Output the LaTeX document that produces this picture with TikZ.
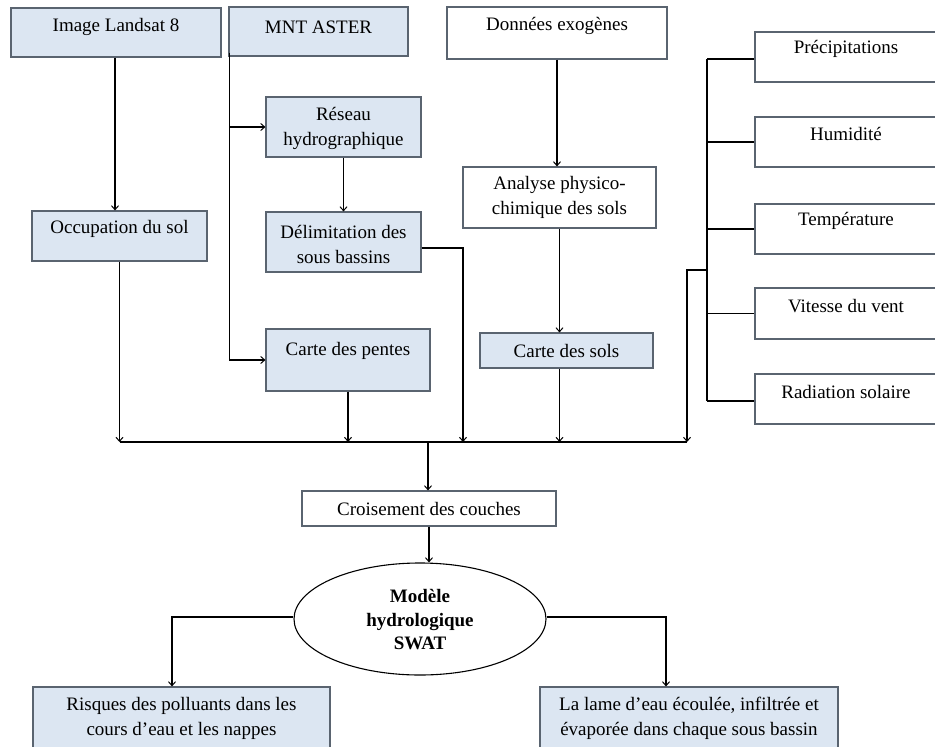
\documentclass[tikz,border=0pt]{standalone}
\usepackage{fontspec}
\setmainfont{Liberation Serif}
\usetikzlibrary{arrows.meta,shapes.geometric}
\definecolor{boxblue}{HTML}{DCE6F2}
\definecolor{boxline}{HTML}{5A6470}
\begin{document}
\begin{tikzpicture}[x=1pt,y=-1pt,
  bbox/.style={draw=boxline,line width=1.1pt,fill=boxblue,rectangle,inner sep=0pt},
  wbox/.style={bbox,fill=white},
  txt/.style={font=\fontsize{19}{25}\selectfont,align=center,inner sep=0pt},
  link/.style={draw=black,line width=1.1pt},
  arr/.style={link,-{Straight Barb[length=4pt,width=7pt,line width=1pt]}}]
\clip (0,0) rectangle (935,747);
\fill[white] (0,0) rectangle (935,747);
% boxes
\node[bbox,minimum width=210,minimum height=49] (landsat) at (116,32.5) {};
\node[txt] (tlandsat) at (116,27) {Image Landsat 8};
\node[bbox,minimum width=179,minimum height=49] (mnt) at (318.5,31.5) {};
\node[txt] (tmnt) at (318.5,27) {MNT ASTER};
\node[wbox,minimum width=220,minimum height=52] (donnees) at (557,33) {};
\node[txt] (tdonnees) at (557,26) {Données exogènes};
\node[bbox,minimum width=155,minimum height=60] (reseau) at (343.5,127) {};
\node[txt] (treseau) at (343.5,128) {Réseau\\hydrographique};
\node[bbox,minimum width=155,minimum height=60] (delim) at (343.5,242) {};
\node[txt] (tdelim) at (343.5,244) {Délimitation des\\sous bassins};
\node[bbox,minimum width=175,minimum height=50] (occup) at (119.5,236) {};
\node[txt] (toccup) at (119.5,229) {Occupation du sol};
\node[bbox,minimum width=164,minimum height=62] (pentes) at (348,360) {};
\node[txt] (tpentes) at (348,351) {Carte des pentes};
\node[wbox,minimum width=193,minimum height=61] (analyse) at (559.5,197.5) {};
\node[txt] (tanalyse) at (559.5,197) {Analyse physico-\\chimique des sols};
\node[bbox,minimum width=173,minimum height=35] (sols) at (566.5,350.5) {};
\node[txt] (tsols) at (566.5,351) {Carte des sols};
\node[wbox,minimum width=185,minimum height=50] (precip) at (847.5,57) {};
\node[txt] (tprecip) at (846,49) {Précipitations};
\node[wbox,minimum width=185,minimum height=50] (humid) at (847.5,142) {};
\node[txt] (thumid) at (846,134) {Humidité};
\node[wbox,minimum width=185,minimum height=50] (temp) at (847.5,229) {};
\node[txt] (ttemp) at (846,221) {Température};
\node[wbox,minimum width=185,minimum height=51] (vitesse) at (847.5,313.5) {};
\node[txt] (tvitesse) at (846,306) {Vitesse du vent};
\node[wbox,minimum width=185,minimum height=50] (radiation) at (847.5,399) {};
\node[txt] (tradiation) at (846,392) {Radiation solaire};
\node[wbox,minimum width=254,minimum height=35] (crois) at (429,508.5) {};
\node[txt] (tcrois) at (429,509) {Croisement des couches};
\node[draw=black,line width=1.1pt,fill=white,ellipse,minimum width=252,minimum height=112,inner sep=0pt] (ell) at (420,619) {};
\node[txt,font=\fontsize{19}{23.5}\selectfont\bfseries] (tell) at (420,620) {Modèle\\hydrologique\\SWAT};
\node[bbox,minimum width=297,minimum height=73] (risques) at (181.5,723.5) {};
\node[txt] (trisques) at (181.5,718) {Risques des polluants dans les\\cours d’eau et les nappes};
\node[bbox,minimum width=298,minimum height=73] (lame) at (689,723.5) {};
\node[txt] (tlame) at (689,718) {La lame d’eau écoulée, infiltrée et\\évaporée dans chaque sous bassin};
% bus
\coordinate (busL) at (120,442);
\coordinate (busR) at (687,442);
\coordinate (busM) at (428,442);
\draw[link] (busL) -- (busR);
% left column
\draw[arr] ([xshift=-1pt]landsat.south) -- ([xshift=-1pt]landsat.south |- occup.north);
\draw[arr] (occup.south) -- (occup.south |- busL);
% MNT trunk
\coordinate (t0) at ([xshift=1pt,yshift=4pt]mnt.south west);
\draw[link] (t0) -- (t0 |- pentes.west);
\draw[arr] (t0 |- pentes.west) -- (pentes.west);
\draw[arr] (t0 |- reseau.west) -- (reseau.west);
\draw[arr] (reseau.south) -- (delim.north);
\draw[arr] ([yshift=-6pt]delim.east) -| (463,442);
\draw[arr] (pentes.south) -- (pentes.south |- busL);
% soils
\draw[arr] (donnees.south) -- (donnees.south |- analyse.north);
\draw[arr] (analyse.south) -- (analyse.south |- sols.north);
\draw[arr] (analyse.south |- sols.south) -- (analyse.south |- busL);
% climate trunk
\coordinate (c0) at (707,59);
\coordinate (c1) at (707,401);
\coordinate (c2) at (707,270);
\draw[link] (c0) -- (c1);
\draw[link] (c0) -- (c0 -| precip.west);
\draw[link] (c0 |- humid.west) -- (humid.west);
\draw[link] (c0 |- temp.west) -- (temp.west);
\draw[link] (c0 |- vitesse.west) -- (vitesse.west);
\draw[link] (c1) -- (c1 -| radiation.west);
\draw[arr] (c2) -| (busR);
% lower part
\draw[arr] (busM) -- (busM |- crois.north);
\draw[arr] (crois.south) -- (crois.south |- ell.north);
\draw[arr] ([yshift=2pt]ell.west) -| ([xshift=-9.5pt]risques.north);
\draw[arr] ([yshift=2pt]ell.east) -| ([xshift=-23pt]lame.north);
\end{tikzpicture}
\end{document}
